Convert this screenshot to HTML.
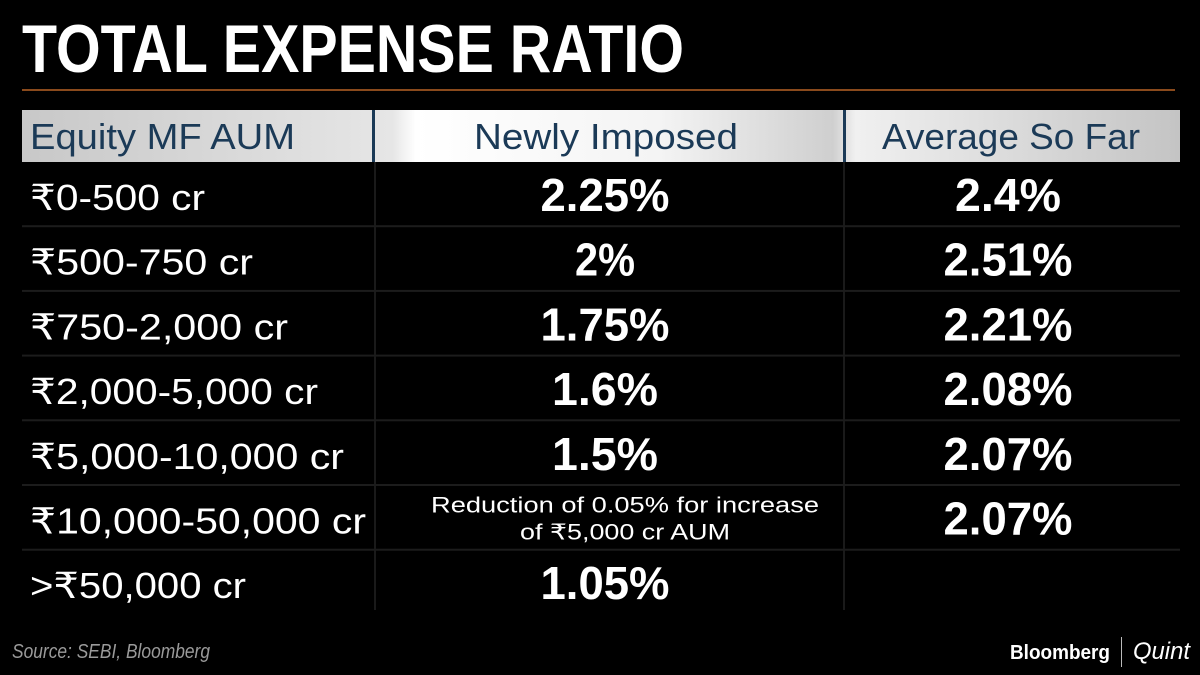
<!DOCTYPE html>
<html><head><meta charset="utf-8">
<style>
html,body{margin:0;padding:0;background:#000;width:1200px;height:675px;overflow:hidden}
svg{display:block}
text{font-family:"Liberation Sans","DejaVu Sans",sans-serif}
</style></head>
<body>
<svg id="chart" width="1200" height="675" viewBox="0 0 1200 675">
<defs>
<linearGradient id="hg" x1="0" x2="1" y1="0" y2="0">
<stop offset="0" stop-color="#c8c8c8"/><stop offset="0.32" stop-color="#e6e6e6"/><stop offset="0.34" stop-color="#ffffff"/><stop offset="0.55" stop-color="#f4f4f4"/><stop offset="0.7" stop-color="#cfcfcf"/><stop offset="0.72" stop-color="#f0f0f0"/><stop offset="1" stop-color="#c4c4c4"/>
</linearGradient>
</defs>
<rect width="1200" height="675" fill="#000"/>
<text x="22" y="72" font-size="68" font-weight="bold" fill="#fff" textLength="662" lengthAdjust="spacingAndGlyphs">TOTAL EXPENSE RATIO</text>
<rect x="22" y="89" width="1153" height="2" fill="#8a4a1c"/>
<rect x="22" y="110" width="1158" height="52" fill="url(#hg)"/>
<rect x="372" y="110" width="3" height="52" fill="#1b3a57"/>
<rect x="843" y="110" width="3" height="52" fill="#1b3a57"/>
<text x="30" y="149" font-size="36" fill="#1b3a57" textLength="265" lengthAdjust="spacingAndGlyphs">Equity MF AUM</text>
<text x="474" y="149" font-size="36" fill="#1b3a57" textLength="264" lengthAdjust="spacingAndGlyphs">Newly Imposed</text>
<text x="882" y="149" font-size="36" fill="#1b3a57" textLength="258" lengthAdjust="spacingAndGlyphs">Average So Far</text>
<rect x="374" y="162" width="2" height="448" fill="#1a1a1a"/>
<rect x="843" y="162" width="2" height="448" fill="#1a1a1a"/>
<g id="rows"></g>
<text x="12" y="658" font-size="20" font-style="italic" fill="#9a9a9a" textLength="198" lengthAdjust="spacingAndGlyphs">Source: SEBI, Bloomberg</text>
<text x="1010" y="659" font-size="20" font-weight="bold" fill="#fff" textLength="100" lengthAdjust="spacingAndGlyphs">Bloomberg</text>
<rect x="1121" y="637" width="1" height="30" fill="#bbb"/>
<text x="1133" y="659" font-size="24" font-style="italic" fill="#fff" font-family="Liberation Serif,serif" textLength="57" lengthAdjust="spacingAndGlyphs">Quint</text>
</svg>
<script>
const categories = ["₹0-500 cr","₹500-750 cr","₹750-2,000 cr","₹2,000-5,000 cr","₹5,000-10,000 cr","₹10,000-50,000 cr",">₹50,000 cr"];
const newlyImposed = ["2.25%","2%","1.75%","1.6%","1.5%","",  "1.05%"];
const averageSoFar = ["2.4%","2.51%","2.21%","2.08%","2.07%","2.07%",""];
const noteLines = ["Reduction of 0.05% for increase","of ₹5,000 cr AUM"];
const labelWidths = [175,223,258,288,314,336,216];

const NS = "http://www.w3.org/2000/svg";
const g = document.getElementById("rows");
const rowTop = 162, rowH = 64.7;
function mk(tag, attrs, txt){
  const e = document.createElementNS(NS, tag);
  for (const k in attrs) e.setAttribute(k, attrs[k]);
  if (txt !== undefined) e.textContent = txt;
  g.appendChild(e);
  return e;
}
function valW(s){ return s.length * 23 + 14; }
categories.forEach((c, i) => {
  const base = rowTop + i * rowH + 49;
  if (i > 0) {
    const ln = mk("rect", {x:22, y:(rowTop + i*rowH - 1.5).toFixed(1), width:1158, height:2, fill:"#1c1c1c"});
    
    
  }
  const t = mk("text", {x:30, y:(base-1).toFixed(1), "font-size":36, fill:"#fff", textLength:labelWidths[i], lengthAdjust:"spacingAndGlyphs"}, c);
  
  
  if (newlyImposed[i]) {
    const w = valW(newlyImposed[i]);
    const v = mk("text", {x:(605 - w/2).toFixed(1), y:base.toFixed(1), "font-size":46, "font-weight":"bold", fill:"#fff", textLength:w, lengthAdjust:"spacingAndGlyphs"}, newlyImposed[i]);
    
    
  } else {
    noteLines.forEach((ln, j) => {
      const w = j === 0 ? 388 : 210;
      const n = mk("text", {x:(625 - w/2).toFixed(1), y:(base - 22 + j*27).toFixed(1), "font-size":22, fill:"#fff", textLength:w, lengthAdjust:"spacingAndGlyphs"}, ln);
      
      
    });
  }
  if (averageSoFar[i]) {
    const w = valW(averageSoFar[i]);
    const v = mk("text", {x:(1008 - w/2).toFixed(1), y:base.toFixed(1), "font-size":46, "font-weight":"bold", fill:"#fff", textLength:w, lengthAdjust:"spacingAndGlyphs"}, averageSoFar[i]);
    
    
  }
});
</script>
</body></html>
